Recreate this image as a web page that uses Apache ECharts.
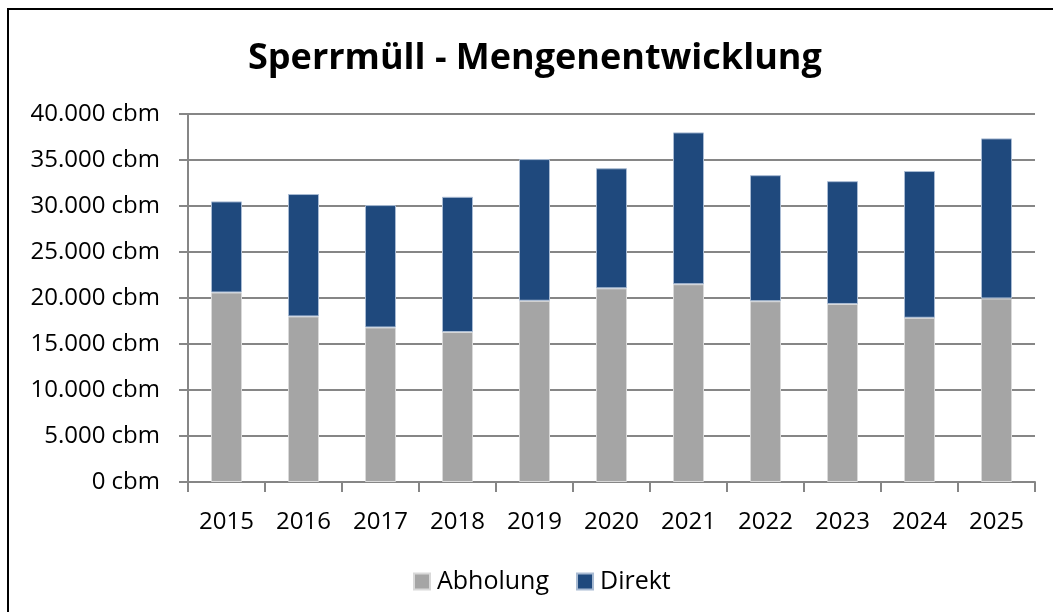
<!DOCTYPE html>
<html>
<head>
<meta charset="utf-8">
<title>Sperrmüll - Mengenentwicklung</title>
<script src="https://cdn.jsdelivr.net/npm/echarts@6/dist/echarts.min.js"></script>
<style>
  html, body { margin: 0; padding: 0; background: #fff; }
  #chart { width: 1053px; height: 612px; }
</style>
</head>
<body>
<div id="chart"></div>
<script>
// Jahre
const years = ['2015', '2016', '2017', '2018', '2019', '2020', '2021', '2022', '2023', '2024', '2025'];
// Mengen in cbm
const abholung = [20600, 18000, 16800, 16300, 19700, 21050, 21500, 19650, 19350, 17850, 19950];
const direkt = [9900, 13300, 13300, 14700, 15400, 13050, 16500, 13700, 13350, 15950, 17400];

const font = '"Open Sans", "Noto Sans", sans-serif';

const chart = echarts.init(document.getElementById('chart'));

const fmt = v => v.toLocaleString('de-DE') + ' cbm';

const option = {
  animation: false,
  backgroundColor: '#fff',
  textStyle: { fontFamily: font },
  title: {
    text: 'Sperrmüll - Mengenentwicklung',
    left: 243,
    top: 36,
    textStyle: { fontFamily: font, fontSize: 36, fontWeight: 'bold', color: '#000' }
  },
  legend: {
    top: 564,
    left: 408,
    icon: 'rect',
    itemWidth: 16,
    itemHeight: 16,
    itemGap: 27,
    textStyle: { fontFamily: font, fontSize: 25, color: '#000', padding: [0, 0, 0, 2] },
    data: ['Abholung', 'Direkt']
  },
  grid: { left: 188, right: 18, top: 114, bottom: 130, containLabel: false },
  xAxis: {
    type: 'category',
    data: years,
    axisLine: { lineStyle: { color: '#868686', width: 2 } },
    axisTick: { show: true, length: 10, lineStyle: { color: '#868686', width: 2 } },
    axisLabel: { color: '#000', fontSize: 24, margin: 28, fontFamily: font }
  },
  yAxis: {
    type: 'value',
    min: 0,
    max: 40000,
    interval: 5000,
    axisLine: { show: true, lineStyle: { color: '#868686', width: 2 } },
    axisTick: { show: true, inside: false, length: 9, lineStyle: { color: '#868686', width: 2 } },
    splitLine: { lineStyle: { color: '#868686', width: 2 } },
    axisLabel: { color: '#000', fontSize: 24, margin: 28, fontFamily: font, formatter: fmt }
  },
  series: [
    {
      name: 'Abholung',
      type: 'bar',
      stack: 'menge',
      data: abholung,
      barWidth: 31,
      itemStyle: { color: '#A5A5A5', borderColor: '#d9d9d9', borderWidth: 1 }
    },
    {
      name: 'Direkt',
      type: 'bar',
      stack: 'menge',
      data: direkt,
      barWidth: 31,
      itemStyle: { color: '#1F497D', borderColor: '#a9bbd3', borderWidth: 1 }
    }
  ],
  graphic: [
    {
      type: 'rect',
      shape: { x: 8, y: 9, width: 1200, height: 800 },
      style: { fill: 'none', stroke: '#000', lineWidth: 2 },
      silent: true
    }
  ]
};

chart.setOption(option);
</script>
</body>
</html>
